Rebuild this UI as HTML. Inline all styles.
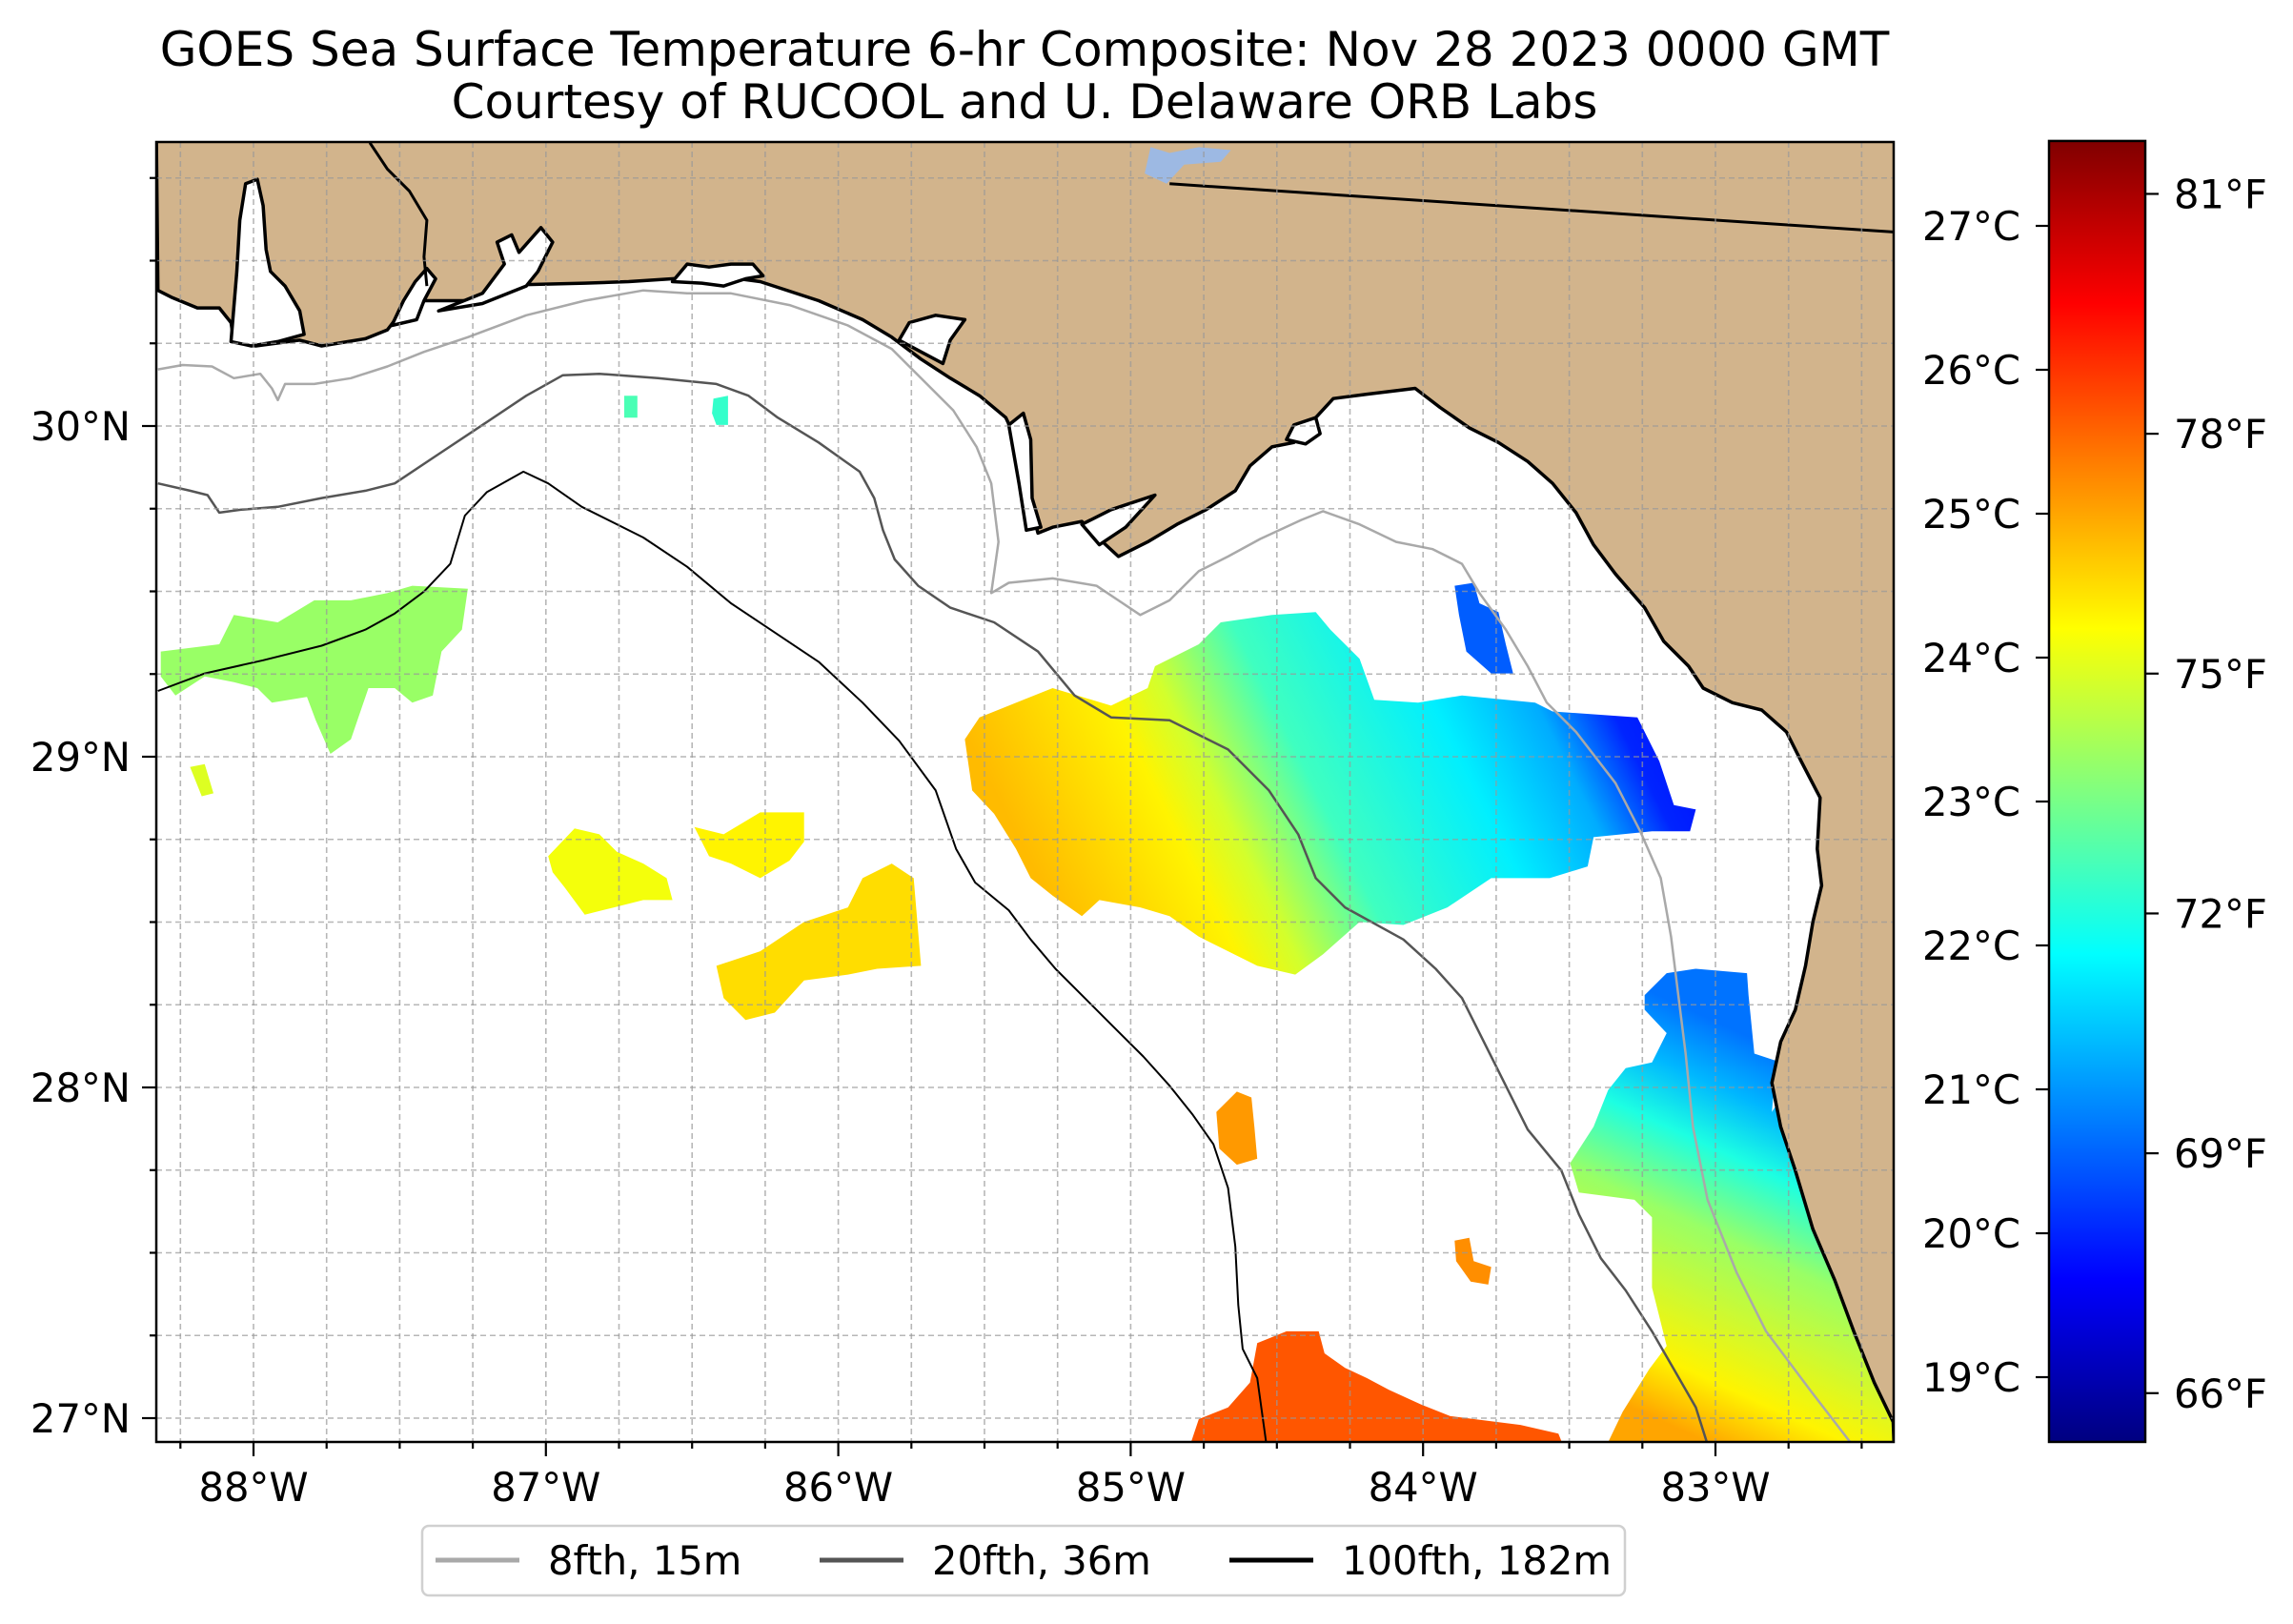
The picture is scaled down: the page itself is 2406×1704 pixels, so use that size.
<!DOCTYPE html>
<html><head><meta charset="utf-8">
<style>
html,body{margin:0;padding:0;background:#fff;}
svg{display:block;font-family:"DejaVu Sans","Liberation Sans",sans-serif;}
</style></head>
<body>
<svg id="fig" width="2406" height="1704" viewBox="0 0 2406 1704" xmlns="http://www.w3.org/2000/svg">
<defs>
<clipPath id="mapclip"><rect x="164" y="149" width="1823" height="1364"/></clipPath>
</defs>
<rect width="2406" height="1704" fill="#fff"/>
<text x="1075" y="69" font-size="50" text-anchor="middle">GOES Sea Surface Temperature 6-hr Composite: Nov 28 2023 0000 GMT</text>
<text x="1075" y="124" font-size="50" text-anchor="middle">Courtesy of RUCOOL and U. Delaware ORB Labs</text>
<g id="map" clip-path="url(#mapclip)"></g>
<rect x="164" y="149" width="1823" height="1364" fill="none" stroke="#000" stroke-width="2.5"/>
<g id="axes"></g>
<g id="cbar"></g>
<g id="legend"></g>
</svg>
<script>
// ---- chart data ----
const lonTicks = [-88, -87, -86, -85, -84, -83];
const lonTickLabels = ["88°W", "87°W", "86°W", "85°W", "84°W", "83°W"];
const latTicks = [27, 28, 29, 30];
const latTickLabels = ["27°N", "28°N", "29°N", "30°N"];
const cTicks = [19, 20, 21, 22, 23, 24, 25, 26, 27];
const cTickLabels = ["19°C","20°C","21°C","22°C","23°C","24°C","25°C","26°C","27°C"];
const fTicks = [66, 69, 72, 75, 78, 81];
const fTickLabels = ["66°F","69°F","72°F","75°F","78°F","81°F"];
const cbarMin = 18.55, cbarMax = 27.59;
const legendLabels = ["8fth, 15m", "20fth, 36m", "100fth, 182m"];
// SST patch temperatures (°C): single-valued patches
const patchNames = ["west-lime", "west-speck", "mid-yellow-a", "mid-yellow-b", "mid-gold", "orange-spot", "orange-speck", "south-red", "north-green-a", "north-green-b", "bigbend-blue"];
const patchTemps = [23.3, 23.9, 24.1, 24.3, 24.5, 25.1, 25.2, 25.7, 22.6, 22.4, 20.5];
// gradient patches: temperature stops along gradient axis
const centralStops = [0, 0.22, 0.3, 0.44, 0.66, 0.8, 0.9, 1];
const centralTemps = [24.8, 24.3, 23.8, 22.5, 21.8, 21.2, 20.0, 19.8];
const eastStops = [0, 0.15, 0.5, 0.7, 0.85, 1];
const eastTemps = [25.0, 24.3, 23.3, 22.2, 21.3, 20.7];

// ---- geography traced (preview grid units, 1 unit = 1.534 px) ----
const S = 1.534;
function tl(px){ return -88 + (px*S - 266)/306.8; }
function tb(py){ return 30 - (py*S - 446)/347; }
function geo(arr){ const o=[]; for(let i=0;i<arr.length;i+=2) o.push([tl(arr[i]), tb(arr[i+1])]); return o; }

const landTrace = [108,198,118,203,135,210,150,210,158,220,160,233,175,236,205,232,220,236,250,231,265,225,275,212,290,205,320,205,360,194,400,193,430,192,460,190,490,188,520,192,560,205,590,218,610,230,630,245,650,258,670,270,688,285,695,300,700,320,705,345,710,364,720,360,740,356,752,368,765,380,785,370,805,358,825,348,845,335,855,318,870,305,885,302,900,285,912,272,935,269,968,265,985,278,1005,292,1025,302,1045,315,1062,330,1078,350,1090,372,1105,392,1125,415,1138,438,1155,455,1165,470,1185,480,1205,485,1222,500,1232,520,1245,545,1243,580,1246,605,1240,630,1235,660,1228,690,1218,712,1212,740,1218,770,1228,800,1240,840,1255,875,1268,910,1282,945,1295,972,1296,1000,1296,95,107,95];
const bays = [
 [158,233,162,185,164,150,168,125,176,122,180,140,182,170,185,185,195,195,205,212,208,228,190,233,172,236],
 [268,222,276,205,284,192,292,183,298,190,290,205,285,218],
 [300,212,330,200,345,180,340,165,350,160,355,172,370,155,378,165,368,185,360,195,330,207],
 [460,192,470,180,485,182,500,180,515,180,522,188,510,190,495,195,480,193],
 [615,232,622,220,640,215,660,218,650,232,645,248,630,240],
 [690,290,700,282,705,300,706,340,712,360,702,362,697,330],
 [740,358,760,348,790,338,770,360,752,372],
 [880,300,885,290,900,285,903,296,893,303]
];
const lakeTrace = [783,118,787,100,800,104,820,100,842,102,835,110,810,112,798,125];
const stateBorder = [800,125,1295,158];
const alBorder = [253,97,265,115,280,130,292,150,290,175,292,195];
const iso8 = [108,252,125,249,145,250,160,258,178,255,186,265,190,273,195,262,215,262,240,258,265,250,290,240,320,230,360,215,400,205,440,198,470,200,500,200,540,208,580,222,610,238,630,258,652,280,668,305,678,330,683,370,678,405,690,398,720,395,750,400,768,412,780,420,800,410,820,390,840,380,862,368,890,355,905,349,930,358,955,370,980,375,1000,385,1012,405,1030,430,1045,455,1058,480,1078,500,1105,535,1122,568,1136,600,1143,640,1148,680,1153,720,1158,770,1168,820,1188,870,1208,910,1238,950,1265,985,1270,1000];
const iso20 = [108,330,130,335,142,338,150,350,165,348,190,346,220,340,250,335,270,330,300,310,330,290,360,270,385,256,410,255,450,258,490,262,512,270,532,285,560,302,588,322,598,340,604,362,612,382,628,400,650,415,680,425,710,445,735,475,760,490,800,492,840,512,868,540,888,570,900,600,920,620,960,642,982,662,1000,682,1015,712,1030,742,1045,772,1068,800,1080,830,1095,860,1112,882,1130,910,1145,936,1160,962,1172,1000];
const iso100 = [108,472,140,460,180,451,220,441,250,430,270,419,290,404,308,385,318,352,333,336,358,322,375,330,398,346,440,367,470,387,500,412,530,432,560,452,590,480,615,506,640,540,654,580,667,603,690,622,705,642,722,662,742,682,762,702,782,722,800,742,816,762,830,782,840,812,845,852,847,892,850,922,860,942,868,1000];
const patchTraces = [
 [110,445,150,440,160,420,190,425,215,410,240,410,265,405,282,400,320,402,316,430,302,445,296,475,282,480,270,470,252,470,240,505,226,515,216,492,210,476,186,480,176,470,160,466,140,462,120,475,110,462],
 [130,524,140,522,146,542,138,544],
 [375,585,393,566,410,570,422,582,440,590,456,600,460,615,440,615,420,620,400,625,386,606,378,596],
 [475,565,495,570,520,555,550,555,550,575,540,588,520,600,500,590,485,585],
 [490,660,520,650,550,630,580,620,590,600,610,590,625,600,630,660,600,662,580,666,550,670,530,692,510,697,495,682],
 [832,760,846,746,856,750,858,770,860,792,846,796,834,785],
 [995,848,1005,846,1008,862,1020,866,1018,878,1006,876,996,862],
 [815,985,820,970,840,962,855,945,860,918,880,910,902,910,906,925,920,935,935,942,950,950,972,960,992,968,1040,974,1066,980,1070,990,810,990],
 [427,270,436,270,436,285,427,285],
 [488,272,498,270,498,290,490,290,487,282],
 [995,400,1008,398,1012,412,1025,418,1030,440,1035,460,1020,460,1003,445,998,420]
];
const centralTrace = [660,505,670,490,700,478,720,470,760,482,785,470,790,455,820,440,835,425,870,420,900,418,910,430,930,450,940,478,970,480,1000,475,1050,480,1062,486,1120,490,1135,520,1145,550,1160,553,1156,568,1130,568,1090,572,1086,592,1060,600,1020,600,990,620,960,632,930,630,905,652,886,666,860,660,840,650,820,640,800,626,780,620,752,615,740,626,720,612,705,600,695,580,680,556,665,540];
const eastTrace = [1125,680,1140,665,1160,662,1195,665,1196,680,1200,720,1215,725,1212,760,1225,740,1236,738,1260,760,1280,765,1296,770,1296,805,1276,830,1262,860,1266,900,1280,940,1296,970,1296,990,1098,990,1110,965,1128,936,1140,920,1130,880,1130,832,1118,820,1080,815,1074,795,1090,770,1100,745,1112,730,1130,726,1140,706,1125,690];

// ---- projection ----
function X(lon){ return 266 + (lon + 88) * 306.8; }
function Y(lat){ return 1488 - (lat - 27) * 347; }
function cbY(t){ return 237 - (t - 27) * 151; }
function jet(x){
  x = Math.max(0, Math.min(1, x));
  const f = v => Math.round(255*Math.max(0, Math.min(1, v)));
  const r = Math.min(4*x - 1.5, -4*x + 4.5);
  const g = Math.min(4*x - 0.5, -4*x + 3.5);
  const b = Math.min(4*x + 0.5, -4*x + 2.5);
  return `rgb(${f(r)},${f(g)},${f(b)})`;
}
function tcol(t){ return jet((t - cbarMin)/(cbarMax - cbarMin)); }
const NS = "http://www.w3.org/2000/svg";
function mk(tag, attrs, parent){ const e=document.createElementNS(NS,tag); for(const k in attrs) e.setAttribute(k, attrs[k]); parent.appendChild(e); return e; }
function pts(ll){ return ll.map(p => X(p[0]).toFixed(1)+","+Y(p[1]).toFixed(1)).join(" "); }

const map = document.getElementById('map');
const defs = document.querySelector('defs');

// SST patches
patchTraces.forEach((tr, i) => {
  const p = mk('polygon', {points: pts(geo(tr)), fill: tcol(patchTemps[i])}, map);
  
  
});
function gradPatch(id, tr, stops, temps, a, b, name){
  const g = mk('linearGradient', {id: id, gradientUnits: 'userSpaceOnUse', x1: a[0]*S, y1: a[1]*S, x2: b[0]*S, y2: b[1]*S}, defs);
  stops.forEach((s, i) => mk('stop', {offset: s, 'stop-color': tcol(temps[i])}, g));
  const p = mk('polygon', {points: pts(geo(tr)), fill: `url(#${id})`}, map);
  
  
}
gradPatch('gc', centralTrace, centralStops, centralTemps, [720,620], [1120,420], 'sst-patch-central');
gradPatch('ge', eastTrace, eastStops, eastTemps, [1110,960], [1220,720], 'sst-patch-east');

// land
const land = mk('polygon', {points: pts(geo(landTrace)), fill: '#d2b48c', stroke: '#000', 'stroke-width': 3.5, 'stroke-linejoin': 'round'}, map);


bays.forEach((b, i) => {
  const e = mk('polygon', {points: pts(geo(b)), fill: '#fff', stroke: '#000', 'stroke-width': 3.5, 'stroke-linejoin': 'round'}, map);
  
  
});
const lake = mk('polygon', {points: pts(geo(lakeTrace)), fill: '#9db9e3'}, map);


[stateBorder, alBorder].forEach((s, i) => {
  const e = mk('polyline', {points: pts(geo(s)), fill: 'none', stroke: '#000', 'stroke-width': 3}, map);
  
  
});

// isobaths
const isoDefs = [[iso8, '#a9a9a9', 2.5, 'isobath-8fth'], [iso20, '#555555', 2.5, 'isobath-20fth'], [iso100, '#000000', 2, 'isobath-100fth']];
isoDefs.forEach(d => {
  const e = mk('polyline', {points: pts(geo(d[0])), fill: 'none', stroke: d[1], 'stroke-width': d[2], 'stroke-linejoin': 'round'}, map);
  
  
});

// gridlines
for (let k = 0; k <= 23; k++) {
  const lon = -88.25 + k*0.25;
  const e = mk('line', {x1: X(lon), x2: X(lon), y1: 149, y2: 1513, stroke: '#999', 'stroke-opacity': 0.7, 'stroke-width': 1.6, 'stroke-dasharray': '6,4'}, map);
  
  
}
for (let k = 0; k <= 16; k++) {
  const lat = 27 + k*0.25;
  const e = mk('line', {x1: 164, x2: 1987, y1: Y(lat), y2: Y(lat), stroke: '#999', 'stroke-opacity': 0.7, 'stroke-width': 1.6, 'stroke-dasharray': '6,4'}, map);
  
  
}

// axes ticks
const axes = document.getElementById('axes');
for (let k = 0; k <= 23; k++) {
  const lon = -88.25 + k*0.25;
  const major = Math.abs(lon - Math.round(lon)) < 1e-6;
  const e = mk('line', {x1: X(lon), x2: X(lon), y1: 1513, y2: 1513 + (major ? 15 : 7), stroke: '#000', 'stroke-width': 2.2}, axes);
  
  
}
for (let k = 0; k <= 15; k++) {
  const lat = 27 + k*0.25;
  const major = Math.abs(lat - Math.round(lat)) < 1e-6;
  const e = mk('line', {x1: 164, x2: 164 - (major ? 15 : 7), y1: Y(lat), y2: Y(lat), stroke: '#000', 'stroke-width': 2.2}, axes);
  
  
}
lonTicks.forEach((v, i) => {
  const t = mk('text', {x: X(v), y: 1575, 'font-size': 41.7, 'text-anchor': 'middle'}, axes);
  t.textContent = lonTickLabels[i];
  
  
});
latTicks.forEach((v, i) => {
  const t = mk('text', {x: 137, y: Y(v) + 15, 'font-size': 41.7, 'text-anchor': 'end'}, axes);
  t.textContent = latTickLabels[i];
  
  
});

// colorbar
const cbar = document.getElementById('cbar');
const cg = mk('linearGradient', {id: 'cbg', x1: 0, y1: 1, x2: 0, y2: 0}, defs);
for (let i = 0; i <= 40; i++) mk('stop', {offset: i/40, 'stop-color': jet(i/40)}, cg);
const cTop = cbY(cbarMax), cBot = cbY(cbarMin);
const cbRect = mk('rect', {x: 2150, y: cTop, width: 101, height: cBot - cTop, fill: 'url(#cbg)', stroke: '#000', 'stroke-width': 2.5}, cbar);


cTicks.forEach((v, i) => {
  const y = cbY(v);
  const l = mk('line', {x1: 2150, x2: 2136, y1: y, y2: y, stroke: '#000', 'stroke-width': 2.2}, cbar);
  
  
  const t = mk('text', {x: 2120, y: y + 15, 'font-size': 41.7, 'text-anchor': 'end'}, cbar);
  t.textContent = cTickLabels[i];
  
  
});
fTicks.forEach((v, i) => {
  const y = cbY((v - 32) * 5 / 9);
  const l = mk('line', {x1: 2251, x2: 2265, y1: y, y2: y, stroke: '#000', 'stroke-width': 2.2}, cbar);
  
  
  const t = mk('text', {x: 2281, y: y + 15, 'font-size': 41.7, 'text-anchor': 'start'}, cbar);
  t.textContent = fTickLabels[i];
  
  
});

// legend
const leg = document.getElementById('legend');
const box = mk('rect', {x: 443, y: 1601, width: 1262, height: 73, rx: 7, fill: '#fff', stroke: '#d0d0d0', 'stroke-width': 2.5}, leg);


const legX = [457, 860, 1290];
const legC = ['#a9a9a9', '#555555', '#000000'];
legendLabels.forEach((lab, i) => {
  const l = mk('line', {x1: legX[i], x2: legX[i] + 88, y1: 1637, y2: 1637, stroke: legC[i], 'stroke-width': 5}, leg);
  
  
  const t = mk('text', {x: legX[i] + 118, y: 1652, 'font-size': 41.7}, leg);
  t.textContent = lab;
  
  
});
</script>
</body></html>
